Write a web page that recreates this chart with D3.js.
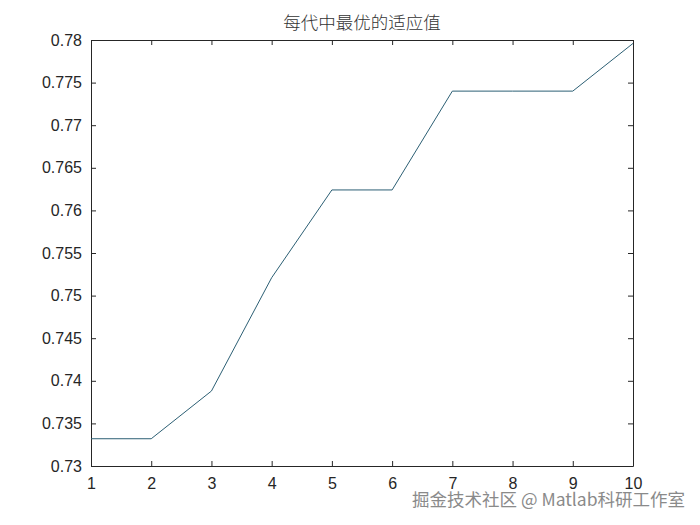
<!DOCTYPE html>
<html>
<head>
<meta charset="utf-8">
<script src="https://cdn.jsdelivr.net/npm/d3@7"></script>
<style>
  body { margin: 0; background: #fff; }
  svg { display: block; }
</style>
</head>
<body>
<svg></svg>
<script>
// generation number and best fitness in that generation
const generations = [1, 2, 3, 4, 5, 6, 7, 8, 9, 10];
const bestFitness = [0.7332, 0.7332, 0.7388, 0.7521, 0.7624, 0.7624, 0.7740, 0.7740, 0.7740, 0.7796];
const yTicks = [0.73, 0.735, 0.74, 0.745, 0.75, 0.755, 0.76, 0.765, 0.77, 0.775, 0.78];
const titleText = "每代中最优的适应值";
const watermark = "掘金技术社区 @ Matlab科研工作室";

let width = 700;
let height = 525;
let margin = { top: 40, right: 67, bottom: 59, left: 91 };

let svg = d3.select("svg")
    .attr("width", width)
    .attr("height", height);

let x = d3.scaleLinear()
    .domain([1, 10])
    .range([margin.left, width - margin.right]);

let y = d3.scaleLinear()
    .domain([0.73, 0.78])
    .range([height - margin.bottom, margin.top]);

let tickFont = "Liberation Sans, Arial, sans-serif";

// bottom axis
svg.append("g")
    .attr("transform", "translate(0," + (height - margin.bottom) + ")")
    .call(d3.axisBottom(x).tickValues(generations).tickFormat(d3.format("d")).tickSizeInner(-5).tickSizeOuter(0).tickPadding(12));

// left axis
svg.append("g")
    .attr("transform", "translate(" + margin.left + ",0)")
    .call(d3.axisLeft(y).tickValues(yTicks).tickFormat(d => String(+d.toFixed(3))).tickSizeInner(-5).tickSizeOuter(0).tickPadding(9));

// top and right ticks, no labels
svg.append("g")
    .attr("transform", "translate(0," + margin.top + ")")
    .call(d3.axisTop(x).tickValues(generations).tickFormat("").tickSizeInner(-5).tickSizeOuter(0));

svg.append("g")
    .attr("transform", "translate(" + (width - margin.right) + ",0)")
    .call(d3.axisRight(y).tickValues(yTicks).tickFormat("").tickSizeInner(-5).tickSizeOuter(0));

svg.selectAll(".domain, .tick line")
    .attr("stroke", "#262626")
    .attr("stroke-width", 1);

svg.selectAll(".tick text")
    .attr("fill", "#262626")
    .style("font-family", tickFont)
    .style("font-size", "16px");

// the line
let line = d3.line()
    .x((d, i) => x(generations[i]))
    .y(d => y(d));

svg.append("path")
    .datum(bestFitness)
    .attr("fill", "none")
    .attr("stroke", "#2c5f74")
    .attr("stroke-width", 1)
    .attr("d", line);

// title
svg.append("text")
    .attr("x", (margin.left + width - margin.right) / 2)
    .attr("y", 29)
    .attr("text-anchor", "middle")
    .attr("fill", "#333")
    .style("font-family", "Noto Sans CJK SC, sans-serif")
    .style("font-weight", 300)
    .style("font-size", "17.5px")
    .text(titleText);

// watermark
svg.append("text")
    .attr("x", 685)
    .attr("y", 506)
    .attr("text-anchor", "end")
    .attr("fill", "#8a8a8a")
    .attr("stroke", "#ffffff")
    .attr("stroke-width", 2)
    .attr("paint-order", "stroke")
    .style("font-family", "Noto Sans CJK SC, sans-serif")
    .style("font-size", "17.5px")
    .text(watermark);
</script>
</body>
</html>
